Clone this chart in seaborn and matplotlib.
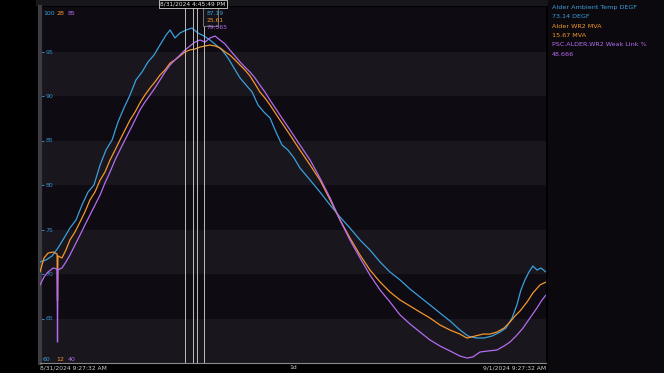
import matplotlib
matplotlib.use("Agg")
import matplotlib.pyplot as plt
import matplotlib.transforms as mtransforms
from matplotlib.patches import Rectangle
import seaborn as sns
import pandas as pd

# ---------------- data ----------------
temp_hours = [0.00, 0.28, 0.57, 0.85, 1.14, 1.42, 1.71, 1.99, 2.28, 2.56, 2.85, 3.13, 3.42, 3.70, 3.98,
              4.27, 4.55, 4.84, 5.12, 5.41, 5.69, 5.98, 6.17, 6.40, 6.64, 6.93, 7.21, 7.49, 7.78, 8.06,
              8.35, 8.63, 8.92, 9.20, 9.49, 9.77, 10.06, 10.34, 10.62, 10.91, 11.19, 11.48, 11.76, 12.05,
              12.33, 12.81, 13.28, 13.76, 14.23, 14.70, 15.18, 15.65, 16.13, 16.60, 17.08, 17.55, 18.02,
              18.50, 18.97, 19.45, 19.92, 20.30, 20.68, 21.06, 21.44, 21.82, 22.10, 22.39, 22.62, 22.81,
              23.00, 23.19, 23.38, 23.57, 23.76, 24.00]
temp_degf = [71.35, 71.57, 72.02, 72.92, 74.04, 75.17, 76.07, 77.75, 79.21, 80.00, 82.25, 83.93, 85.06, 87.08, 88.65,
             90.11, 91.80, 92.70, 93.82, 94.61, 95.73, 96.85, 97.42, 96.52, 97.08, 97.42, 97.64, 97.08, 96.74, 96.29,
             95.73, 95.17, 94.27, 93.15, 92.02, 91.24, 90.45, 88.99, 88.20, 87.53, 85.96, 84.49, 83.93, 83.03,
             81.91, 80.56, 79.21, 77.75, 76.40, 75.17, 73.82, 72.70, 71.35, 70.22, 69.33, 68.31, 67.42,
             66.52, 65.62, 64.72, 63.71, 63.03, 62.81, 62.81, 63.03, 63.48, 63.93, 65.06, 66.52, 68.20,
             69.33, 70.22, 70.90, 70.45, 70.67, 70.22]

mva_hours = [0.00, 0.19, 0.38, 0.62, 0.81, 0.83, 0.85, 1.04, 1.23, 1.42, 1.66, 1.90, 2.13, 2.37, 2.61, 2.85,
             3.08, 3.32, 3.56, 3.79, 4.03, 4.27, 4.51, 4.74, 4.98, 5.22, 5.45, 5.69, 5.93, 6.17, 6.40, 6.64,
             6.88, 7.11, 7.35, 7.59, 7.83, 8.06, 8.30, 8.54, 8.78, 9.01, 9.25, 9.49, 9.72, 9.96, 10.20, 10.43,
             10.67, 10.91, 11.38, 11.86, 12.33, 12.81, 13.28, 13.76, 14.23, 14.70, 15.18, 15.65, 16.13, 16.60,
             17.08, 17.55, 18.02, 18.50, 18.97, 19.45, 19.92, 20.25, 20.63, 21.01, 21.34, 21.67, 22.01, 22.29,
             22.53, 22.77, 23.10, 23.38, 23.72, 24.00]
mva_values = [16.09, 16.72, 16.94, 16.99, 16.90, 14.80, 16.81, 16.72, 17.08, 17.53, 17.89, 18.34, 18.79, 19.33, 19.69, 20.22,
              20.58, 21.12, 21.57, 22.02, 22.47, 22.92, 23.28, 23.69, 24.05, 24.36, 24.63, 24.94, 25.17, 25.48, 25.62, 25.80,
              25.98, 26.07, 26.11, 26.20, 26.25, 26.29, 26.25, 26.16, 25.98, 25.84, 25.62, 25.39, 25.17, 24.90, 24.54, 24.18,
              23.91, 23.60, 22.92, 22.25, 21.57, 20.90, 20.22, 19.33, 18.43, 17.62, 16.85, 16.18, 15.64, 15.19,
              14.83, 14.56, 14.29, 14.02, 13.71, 13.48, 13.30, 13.12, 13.21, 13.30, 13.30, 13.39, 13.57, 13.84,
              14.11, 14.34, 14.74, 15.15, 15.51, 15.64]

link_hours = [0.00, 0.19, 0.38, 0.62, 0.81, 0.83, 0.85, 1.04, 1.23, 1.42, 1.66, 1.90, 2.13, 2.37, 2.61, 2.85,
              3.08, 3.32, 3.56, 3.79, 4.03, 4.27, 4.51, 4.74, 4.98, 5.22, 5.45, 5.69, 5.93, 6.17, 6.40, 6.64,
              6.88, 7.11, 7.35, 7.59, 7.83, 8.06, 8.30, 8.54, 8.78, 9.01, 9.25, 9.49, 9.72, 9.96, 10.20, 10.43,
              10.67, 10.91, 11.38, 11.86, 12.33, 12.81, 13.28, 13.76, 14.23, 14.70, 15.18, 15.65, 16.13, 16.60,
              17.08, 17.55, 18.02, 18.50, 18.97, 19.45, 19.92, 20.25, 20.53, 20.87, 21.25, 21.67, 22.01, 22.29,
              22.58, 22.91, 23.24, 23.57, 23.81, 24.00]
link_pct = [49.86, 50.87, 51.50, 52.01, 51.88, 42.65, 51.76, 52.01, 52.77, 53.65, 54.92, 56.18, 57.44, 58.71, 59.97, 61.24,
            62.75, 64.14, 65.66, 66.92, 68.19, 69.45, 70.72, 71.98, 72.99, 73.88, 74.76, 75.77, 76.78, 77.67, 78.30, 78.93,
            79.56, 80.07, 80.57, 80.83, 80.57, 81.08, 81.33, 80.83, 80.32, 79.56, 78.81, 78.05, 77.41, 76.78, 76.02, 75.14,
            74.25, 73.24, 71.35, 69.45, 67.56, 65.66, 63.38, 60.86, 58.08, 55.55, 53.27, 51.12, 49.23, 47.71,
            46.07, 44.93, 43.92, 42.91, 42.15, 41.52, 40.88, 40.63, 40.76, 41.39, 41.52, 41.64, 42.15, 42.65,
            43.41, 44.42, 45.69, 46.95, 47.96, 48.60]

temp_range = [60, 100]
mva_range = [12, 28]
link_range = [40, 85]
temp_ticks = [65, 70, 75, 80, 85, 90, 95]
band_pairs = [(60, 65), (70, 75), (80, 85), (90, 95)]
hour_ticks = list(range(0, 25))
x_labels = ["8/31/2024 9:27:32 AM", "1d", "9/1/2024 9:27:32 AM"]
cursor_hours = [6.88, 7.26, 7.45, 7.78]
cursor_label = "8/31/2024 4:45:49 PM"
tooltip_values = ["87.19", "25.61", "79.565"]
legend_names = ["Alder Ambient Temp DEGF", "Alder WR2 MVA", "PSC.ALDER.WR2 Weak Link %"]
legend_values = ["73.14 DEGF", "15.67 MVA", "48.666"]

BLUE = "#3a9fdc"
ORANGE = "#f3962c"
PURPLE = "#b56cf0"
colors = [BLUE, ORANGE, PURPLE]

# ---------------- figure ----------------
sns.set_style("dark")
plt.rcParams["font.family"] = ["DejaVu Sans"]

W, H = 664, 373
fig = plt.figure(figsize=(W / 100, H / 100), dpi=100, facecolor="#000000")

# right legend panel + top strip
fig.patches.append(Rectangle((548 / W, 0), 1 - 548 / W, 1, transform=fig.transFigure,
                             facecolor="#0b090d", edgecolor="none", zorder=-10))
fig.patches.append(Rectangle((36 / W, 1 - 6 / H), 512 / W, 6 / H, transform=fig.transFigure,
                             facecolor="#17161a", edgecolor="none", zorder=-10))

ax = fig.add_axes([40 / W, 10 / H, 506 / W, 356 / H])
ax.set_facecolor("#0e0b12")
for lo, hi in band_pairs:
    ax.axhspan(lo, hi, color="#19171d", zorder=0, lw=0)
ax.set_ylim(*temp_range)
ax.set_xlim(0, 24)
ax.grid(False)

ax2 = ax.twinx()
ax3 = ax.twinx()
ax2.set_ylim(*mva_range)
ax3.set_ylim(*link_range)
for a in (ax2, ax3):
    a.set_yticks([])
    a.set_facecolor("none")
    a.grid(False)
    for s in a.spines.values():
        s.set_visible(False)

df_t = pd.DataFrame({"h": temp_hours, "v": temp_degf})
df_m = pd.DataFrame({"h": mva_hours, "v": mva_values})
df_l = pd.DataFrame({"h": link_hours, "v": link_pct})
sns.lineplot(data=df_t, x="h", y="v", ax=ax, color=BLUE, lw=0.9, zorder=3)
sns.lineplot(data=df_m, x="h", y="v", ax=ax2, color=ORANGE, lw=0.9, zorder=3)
sns.lineplot(data=df_l, x="h", y="v", ax=ax3, color=PURPLE, lw=0.9, zorder=4)
for a in (ax, ax2, ax3):
    a.set_xlabel("")
    a.set_ylabel("")
ax3.set_xlim(0, 24)

# cursor lines
for ch in cursor_hours:
    ax3.axvline(ch, color="#bdbdbd", lw=0.7, zorder=5)

# spines
for side in ("top", "right"):
    ax.spines[side].set_visible(False)
ax.spines["left"].set_color("#3d3c42")
ax.spines["left"].set_linewidth(3.0)
ax.spines["bottom"].set_color("#8a8a8a")
ax.spines["bottom"].set_linewidth(0.8)

# y ticks inside
ax.set_yticks(temp_ticks)
ax.set_yticklabels([str(t) for t in temp_ticks])
ax.tick_params(axis="y", direction="in", length=3, width=0.6, color=BLUE,
               labelcolor="#3a8cc8", labelsize=4.5, pad=-4)
for lab in ax.get_yticklabels():
    lab.set_horizontalalignment("left")

# x ticks
ax.set_xticks(hour_ticks, minor=True)
ax.set_xticks([0, 12, 24])
ax.set_xticklabels(x_labels)
ax.tick_params(axis="x", which="both", direction="in", length=3, width=0.6, color="#8a8a8a",
               labelcolor="#d0d0d0", labelsize=4.3, pad=1.5)
xl = ax.get_xticklabels()
xl[0].set_horizontalalignment("left")
xl[2].set_horizontalalignment("right")

# corner range labels
top_labels = [str(temp_range[1]), str(mva_range[1]), str(link_range[1])]
bot_labels = [str(temp_range[0]), str(mva_range[0]), str(link_range[0])]
xs = [0.006, 0.033, 0.055]
for x, t, b, c in zip(xs, top_labels, bot_labels, colors):
    ax.text(x, 0.99, t, transform=ax.transAxes, color=c, fontsize=4.5, va="top", ha="left")
    ax.text(x, 0.003, b, transform=ax.transAxes, color=c, fontsize=4.5, va="bottom", ha="left")

# cursor label box (drawn on the top-most axes so it sits above everything)
trans3 = mtransforms.blended_transform_factory(ax3.transData, ax3.transAxes)
ax3.text(7.26, 1.008, cursor_label, transform=trans3, ha="center", va="center", fontsize=4.2,
         color="#e8e8e8", zorder=20, clip_on=False,
         bbox=dict(boxstyle="square,pad=0.25", facecolor="#000000", edgecolor="#d8d8d8", lw=0.6))

# tooltip values
ax3.text(7.78, 0.998, "\n".join(["       "] * 3), transform=trans3, ha="left", va="top", fontsize=4.3,
         color="none", zorder=19, linespacing=1.3,
         bbox=dict(boxstyle="square,pad=0.2", facecolor="#15131a", edgecolor="#9a9a9a", lw=0.5))
for i, (val, c) in enumerate(zip(tooltip_values, colors)):
    ax3.text(7.88, 0.988 - i * 0.0195, val, transform=trans3, ha="left", va="top", fontsize=4.3,
             color=c, zorder=21)

# legend text
for i, (name, val, c) in enumerate(zip(legend_names, legend_values, colors)):
    fig.text(552 / W, 1 - (8 + i * 18.5) / H, name, color=c, fontsize=4.6, va="center", ha="left")
    fig.text(552 / W, 1 - (17 + i * 18.5) / H, val, color=c, fontsize=4.6, va="center", ha="left")

fig.savefig("out.png", dpi=100, facecolor=fig.get_facecolor())
